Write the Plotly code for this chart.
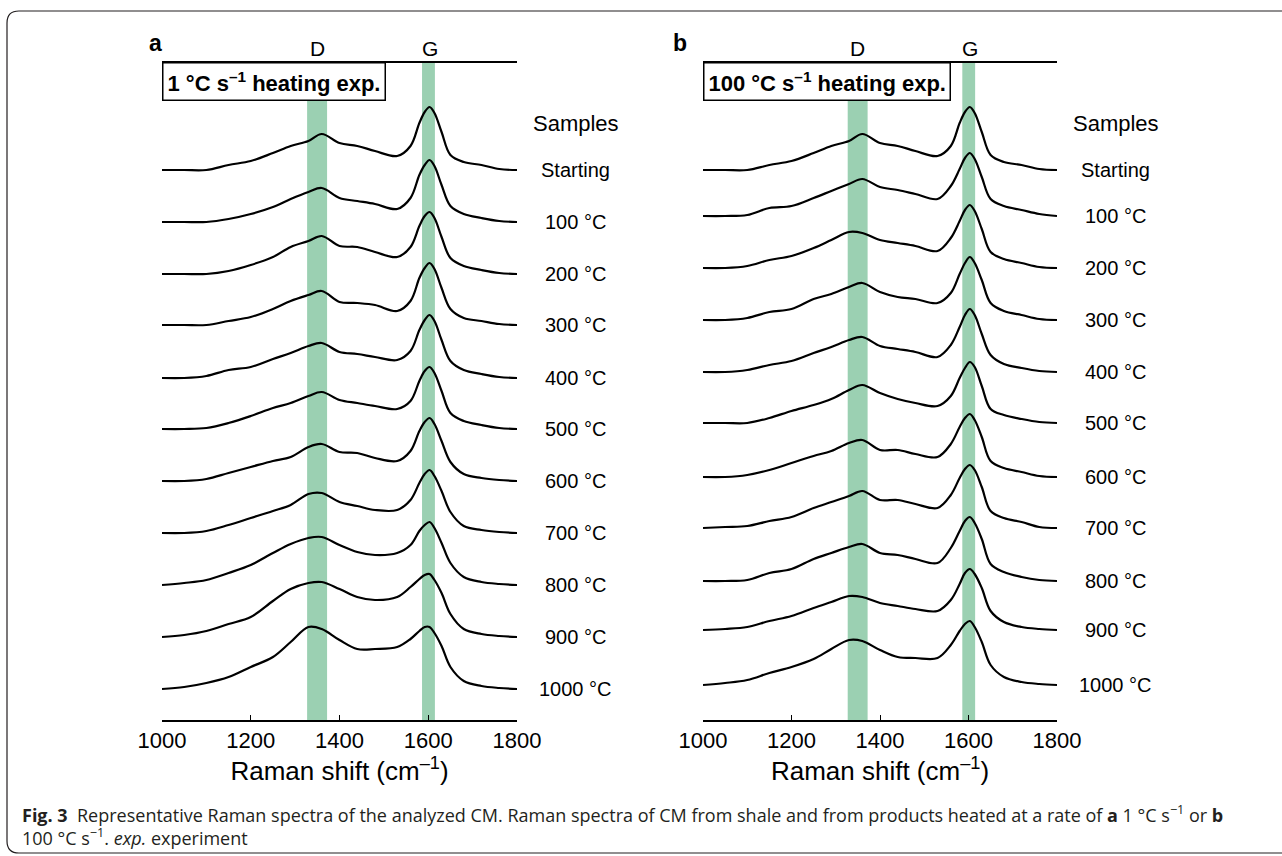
import plotly.graph_objects as go

W, H = 1282, 856

# ---------------- data ----------------
wavenumbers = [1000, 1050, 1100, 1150, 1200, 1250, 1290, 1330, 1360, 1400, 1440, 1480,
               1530, 1560, 1580, 1592, 1603, 1614, 1630, 1650, 1680, 1720, 1760, 1800]

samples = ["Starting", "100 °C", "200 °C", "300 °C", "400 °C", "500 °C",
           "600 °C", "700 °C", "800 °C", "900 °C", "1000 °C"]

# vertical stacking offsets (arbitrary intensity units)
offsets_a = [550, 498, 446, 395, 342, 291, 239, 187, 135, 83, 31]
offsets_b = [550, 504, 452, 400, 348, 297, 243, 192, 139, 90, 35]

# intensities above each baseline (a.u.)
spectra_a = [
    [0, 0, 0, 5, 9, 17, 24, 29, 36, 27, 24, 19, 14, 24, 47, 58, 63, 57, 38, 15, 8, 5, 1, 0],
    [0, 0, 0, 3, 8, 15, 23, 30, 34, 24, 21, 18, 13, 24, 47, 57, 62, 56, 37, 16, 8, 4, 1, 0],
    [0, 0, 0, 3, 9, 17, 27, 33, 38, 28, 27, 22, 17, 27, 48, 58, 62, 56, 37, 16, 8, 4, 1, 0],
    [0, 0, 0, 4, 8, 16, 24, 30, 34, 23, 22, 20, 14, 24, 47, 57, 62, 56, 37, 16, 7, 4, 1, 0],
    [0, 0, 2, 8, 11, 19, 25, 32, 35, 26, 24, 21, 18, 27, 48, 58, 63, 57, 38, 17, 8, 4, 1, 0],
    [0, 0, 1, 6, 13, 21, 26, 33, 37, 29, 26, 23, 20, 28, 48, 58, 62, 56, 38, 16, 8, 4, 1, 0],
    [0, 0, 2, 8, 14, 20, 24, 34, 37, 29, 28, 23, 20, 30, 50, 59, 63, 57, 40, 19, 7, 3, 1, 0],
    [0, 0, 2, 8, 15, 22, 28, 39, 40, 31, 27, 23, 23, 33, 50, 59, 63, 57, 42, 21, 7, 3, 1, 0],
    [0, 2, 5, 12, 20, 32, 41, 47, 48, 40, 33, 30, 32, 40, 54, 60, 63, 57, 42, 22, 8, 3, 1, 0],
    [0, 2, 6, 13, 20, 36, 48, 54, 55, 48, 40, 37, 40, 50, 58, 62, 63, 57, 44, 23, 8, 3, 1, 0],
    [0, 2, 6, 12, 22, 32, 47, 62, 60, 49, 40, 40, 42, 50, 58, 62, 62, 56, 43, 22, 8, 3, 1, 0],
]

spectra_b = [
    [0, 0, 0, 5, 9, 17, 24, 29, 36, 27, 24, 19, 14, 24, 47, 58, 63, 57, 38, 15, 8, 5, 1, 0],
    [0, 0, 1, 8, 10, 18, 25, 32, 37, 29, 26, 22, 17, 30, 47, 58, 63, 57, 39, 17, 10, 6, 2, 0],
    [0, 0, 2, 8, 12, 20, 28, 36, 35, 28, 25, 22, 17, 30, 47, 58, 63, 57, 39, 16, 9, 5, 1, 0],
    [0, 0, 2, 8, 11, 21, 26, 33, 37, 28, 23, 21, 17, 27, 46, 57, 63, 57, 40, 17, 9, 5, 1, 0],
    [0, 0, 2, 7, 11, 19, 25, 32, 35, 26, 23, 20, 15, 27, 45, 57, 63, 57, 38, 17, 8, 4, 1, 0],
    [0, 0, 0, 5, 12, 18, 24, 33, 38, 30, 24, 20, 17, 27, 45, 55, 61, 56, 37, 14, 8, 4, 1, 0],
    [0, 0, 2, 7, 14, 21, 26, 34, 37, 27, 27, 23, 20, 33, 50, 59, 63, 57, 40, 16, 9, 5, 1, 0],
    [0, 1, 2, 7, 11, 20, 26, 32, 37, 28, 28, 24, 20, 33, 50, 59, 63, 58, 41, 17, 10, 6, 1, 0],
    [0, 0, 1, 8, 12, 22, 28, 34, 37, 28, 26, 22, 18, 33, 50, 60, 64, 58, 42, 17, 9, 4, 1, 0],
    [0, 1, 3, 9, 14, 22, 28, 34, 33, 27, 24, 21, 19, 30, 46, 57, 61, 56, 42, 19, 8, 3, 1, 0],
    [0, 2, 5, 12, 18, 26, 36, 45, 44, 35, 28, 27, 27, 40, 54, 61, 64, 58, 43, 20, 8, 3, 1, 0],
]

d_band = [1327, 1372]
g_band = [1586, 1615]
band_labels = ["D", "G"]
band_label_pos = [1350, 1603]
xticks = [1000, 1200, 1400, 1600, 1800]
panel_titles = ["1 °C s<sup>–1</sup> heating exp.", "100 °C s<sup>–1</sup> heating exp."]
panel_letters = ["a", "b"]
caption_lines = [
    "<b>Fig. 3</b>  Representative Raman spectra of the analyzed CM. Raman spectra of CM from shale and "
    "from products heated at a rate of <b>a</b> 1 °C s<sup>−1</sup> or <b>b</b>",
    "100 °C s<sup>−1</sup>. <i>exp.</i> experiment",
]

# ---------------- figure ----------------
FONT = "Liberation Sans, Arial, Helvetica, sans-serif"
GREEN = "#9bd0b2"

fig = go.Figure()
for axn, offs, specs in [("", offsets_a, spectra_a), ("2", offsets_b, spectra_b)]:
    for off, spec in zip(offs, specs):
        fig.add_trace(go.Scatter(
            x=wavenumbers, y=[off + v for v in spec], mode="lines",
            line=dict(color="black", width=2.2, shape="spline", smoothing=1.0),
            xaxis="x" + axn, yaxis="y" + axn, showlegend=False, hoverinfo="skip"))

ydom = [136 / H, 793 / H]
xdoms = [[162 / W, 517 / W], [703 / W, 1057 / W]]

def xaxis_cfg(dom, anchor):
    return dict(domain=dom, anchor=anchor, range=[1000, 1800], tickvals=xticks,
                ticks="inside", ticklen=5, tickwidth=1.3, tickcolor="black",
                showline=True, linecolor="black", linewidth=1.5, mirror=True,
                showgrid=False, zeroline=False, automargin=False,
                tickfont=dict(family=FONT, size=22, color="black"),
                title=dict(text="Raman shift (cm<sup>–1</sup>)",
                           font=dict(family=FONT, size=26, color="black"), standoff=10))

def yaxis_cfg(anchor):
    return dict(domain=ydom, anchor=anchor, range=[0, 657], visible=False, fixedrange=True,
                automargin=False)

fig.update_layout(
    width=W, height=H, margin=dict(l=0, r=0, t=0, b=0, pad=0, autoexpand=False),
    paper_bgcolor="white", plot_bgcolor="white", hovermode=False,
    xaxis=xaxis_cfg(xdoms[0], "y"), yaxis=yaxis_cfg("x"),
    xaxis2=xaxis_cfg(xdoms[1], "y2"), yaxis2=yaxis_cfg("x2"),
)

shapes = []
annotations = []
for i, (xa, ya) in enumerate([("x", "y"), ("x2", "y2")]):
    for band in (d_band, g_band):
        shapes.append(dict(type="rect", xref=xa, yref=ya + " domain", x0=band[0], x1=band[1],
                           y0=0, y1=1, fillcolor=GREEN, line=dict(width=0), layer="below"))
    for lab, pos in zip(band_labels, band_label_pos):
        annotations.append(dict(text=lab, xref=xa, yref="paper", x=pos, y=1 - 48 / H,
                                showarrow=False, xanchor="center", yanchor="middle",
                                font=dict(family=FONT, size=21, color="black")))
    # panel title box
    annotations.append(dict(text="<b>" + panel_titles[i] + "</b>", xref=xa + " domain", yref="paper",
                            x=0, y=1 - 62 / H, xanchor="left", yanchor="top", showarrow=False,
                            bordercolor="black", borderwidth=1.5, borderpad=4, bgcolor="white",
                            font=dict(family=FONT, size=22, color="black")))
    # panel letter
    annotations.append(dict(text="<b>" + panel_letters[i] + "</b>", xref="paper", yref="paper",
                            x=(155 if i == 0 else 680) / W, y=1 - 43 / H, showarrow=False,
                            xanchor="center", yanchor="middle",
                            font=dict(family=FONT, size=23, color="black")))
    # sample labels
    offs = offsets_a if i == 0 else offsets_b
    lx = 1.166
    annotations.append(dict(text="Samples", xref=xa + " domain", yref="paper", x=lx,
                            y=1 - 124 / H, showarrow=False, xanchor="center", yanchor="middle",
                            font=dict(family=FONT, size=22, color="black")))
    for s, off in zip(samples, offs):
        annotations.append(dict(text=s, xref=xa + " domain", yref=ya, x=lx, y=off,
                                showarrow=False, xanchor="center", yanchor="middle",
                                font=dict(family=FONT, size=20, color="black")))

# caption (one block, two lines)
CAP_FONT = "Open Sans, Noto Sans, sans-serif"
annotations.append(dict(
    text="<br>".join(caption_lines),
    xref="paper", yref="paper", x=20 / W, y=1 - 825 / H, xanchor="left", yanchor="middle",
    showarrow=False, align="left", font=dict(family=CAP_FONT, size=18, color="#231f20")))

# outer rounded frame
def P(x, y):
    return f"{x / W:.5f},{1 - y / H:.5f}"

frame = ("M " + P(7, 23) + " Q " + P(7, 11) + " " + P(19, 11) + " L " + P(1300, 11) +
         " L " + P(1300, 853) + " L " + P(19, 853) + " Q " + P(7, 853) + " " + P(7, 841) + " Z")
shapes.append(dict(type="path", xref="paper", yref="paper", path=frame,
                   line=dict(color="#231f20", width=1.2), fillcolor="rgba(0,0,0,0)", layer="above"))

fig.update_layout(shapes=shapes, annotations=annotations)
fig.write_html("out.html")
